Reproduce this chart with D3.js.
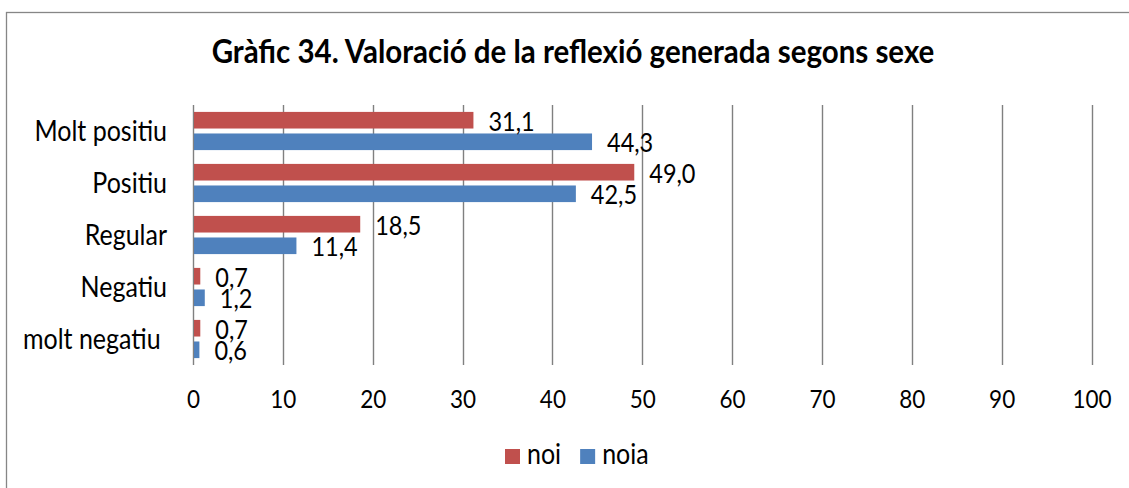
<!DOCTYPE html>
<html>
<head>
<meta charset="utf-8">
<script src="https://cdn.jsdelivr.net/npm/d3@7"></script>
<style>
  body { margin: 0; background: #fff; }
  text { font-family: Lato, "Open Sans", sans-serif; fill: #000; white-space: pre; }
</style>
</head>
<body>
<div class="chart-container"></div>
<script>
const title = "Gràfic 34. Valoració de la reflexió generada segons sexe";
const categories = ["Molt positiu", "Positiu", "Regular", "Negatiu", "molt negatiu "];
const seriesNames = ["noi", "noia"];
const noiValues = [31.1, 49.0, 18.5, 0.7, 0.7];
const noiaValues = [44.3, 42.5, 11.4, 1.2, 0.6];
const xTicks = [0, 10, 20, 30, 40, 50, 60, 70, 80, 90, 100];
const colors = ["#C0504D", "#4F81BD"];

const width = 1129, height = 488;
const stretchY = 1.13; // the original glyphs are a bit taller than Lato

// move x/y into a transform so the glyphs can be stretched vertically
function stretch(sel) {
  sel.each(function() {
    const t = d3.select(this);
    const x = +t.attr("x") || 0, y = +t.attr("y") || 0;
    t.attr("x", 0).attr("y", 0)
      .attr("transform", "translate(" + x + "," + y + ") scale(1," + stretchY + ")");
  });
}

const svg = d3.select(".chart-container")
  .append("svg")
  .attr("width", width)
  .attr("height", height);

// outer chart border (runs off the right/bottom edge)
svg.append("rect")
  .attr("x", 6.5).attr("y", 12.5)
  .attr("width", 1140).attr("height", 500)
  .attr("fill", "#fff")
  .attr("stroke", "#868686")
  .attr("stroke-width", 1.3);

svg.append("text")
  .attr("x", 573).attr("y", 63)
  .attr("text-anchor", "middle")
  .style("font-weight", "bold")
  .style("font-size", "29.5px")
  .text(title)
  .call(stretch);

const xScale = d3.scaleLinear().domain([0, 100]).range([193, 1091.5]);
const yScale = d3.scaleBand().domain(categories).range([105, 365]);
const innerScale = d3.scaleBand().domain(seriesNames)
  .range([0, yScale.bandwidth()])
  .paddingInner(0.23)
  .paddingOuter(0.32);

// vertical gridlines, 0 included
svg.append("g")
  .selectAll("line")
  .data(xTicks)
  .join("line")
  .attr("x1", d => Math.round(xScale(d)) + 0.5)
  .attr("x2", d => Math.round(xScale(d)) + 0.5)
  .attr("y1", 105).attr("y2", 365)
  .attr("stroke", "#808080")
  .attr("stroke-width", 1.4);

// x axis labels
const xAxis = d3.axisBottom(xScale).tickValues(xTicks).tickSize(0).tickPadding(0);
const xg = svg.append("g")
  .attr("transform", "translate(0,387)")
  .call(xAxis);
xg.select(".domain").remove();
xg.selectAll("text")
  .attr("dy", null)
  .attr("y", 21)
  .style("font-size", "22.5px")
  .style("font-family", "Lato, sans-serif")
  .attr("fill", "#000")
  .call(stretch);

// category labels
const yAxis = d3.axisLeft(yScale).tickSize(0).tickPadding(0);
const yg = svg.append("g")
  .attr("transform", "translate(167,0)")
  .call(yAxis);
yg.select(".domain").remove();
yg.selectAll("text")
  .attr("dy", "0.35em")
  .style("font-size", "25px")
  .style("font-family", "Lato, sans-serif")
  .attr("fill", "#000")
  .call(stretch);

const rows = categories.map((c, i) => ({
  cat: c,
  vals: [
    {name: "noi", value: noiValues[i], color: colors[0]},
    {name: "noia", value: noiaValues[i], color: colors[1]}
  ]
}));

const fmt = v => d3.format(".1f")(v).replace(".", ",");

const group = svg.append("g")
  .selectAll("g")
  .data(rows)
  .join("g")
  .attr("transform", d => "translate(0," + yScale(d.cat) + ")");

group.selectAll("rect")
  .data(d => d.vals)
  .join("rect")
  .attr("x", xScale(0) + 1)
  .attr("y", d => innerScale(d.name))
  .attr("width", d => xScale(d.value) - xScale(0))
  .attr("height", innerScale.bandwidth())
  .attr("fill", d => d.color);

group.selectAll("text.val")
  .data(d => d.vals)
  .join("text")
  .attr("class", "val")
  .attr("x", d => xScale(d.value) + 16)
  .attr("y", d => innerScale(d.name) + innerScale.bandwidth() / 2 + 1)
  .attr("dy", "0.36em")
  .style("font-size", "23.5px")
  .text(d => fmt(d.value))
  .call(stretch);

// legend
const legend = svg.append("g").attr("transform", "translate(505,449)");
let lx = 0;
seriesNames.forEach((name, i) => {
  legend.append("rect")
    .attr("x", lx).attr("y", 0)
    .attr("width", 15).attr("height", 15)
    .attr("fill", colors[i]);
  const t = legend.append("text")
    .attr("x", lx + 22).attr("y", 15)
    .style("font-size", "25px")
    .text(name);
  lx += 22 + t.node().getComputedTextLength() + 19;
  t.call(stretch);
});
</script>
</body>
</html>
